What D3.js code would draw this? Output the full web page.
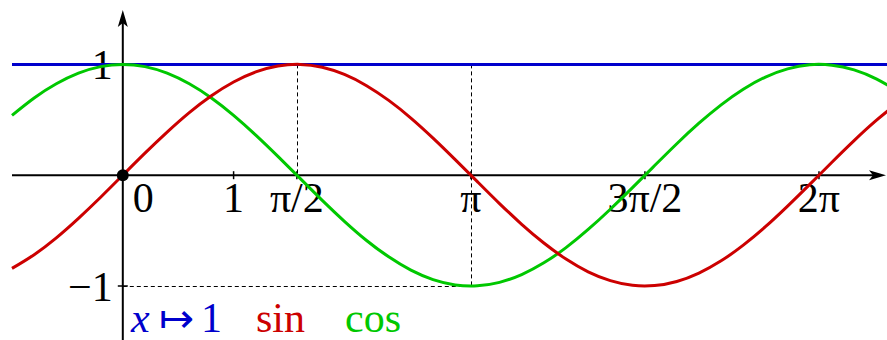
<!DOCTYPE html>
<html>
<head>
<meta charset="utf-8">
<script src="https://cdn.jsdelivr.net/npm/d3@7/dist/d3.min.js"></script>
<style>
  html, body { margin: 0; padding: 0; background: #fff; }
  svg { display: block; }
  text { font-family: "Liberation Serif", "Times New Roman", serif; font-size: 42px; }
</style>
</head>
<body>
<svg id="chart" width="887" height="340"></svg>
<script>
// Sample abscissae (radians) and the sampled function values
const xs = [-1.0, -0.8, -0.6, -0.4, -0.2, 0.0, 0.2, 0.4, 0.6, 0.8,
            1.0, 1.2, 1.4, 1.6, 1.8, 2.0, 2.2, 2.4, 2.6, 2.8,
            3.0, 3.2, 3.4, 3.6, 3.8, 4.0, 4.2, 4.4, 4.6, 4.8,
            5.0, 5.2, 5.4, 5.6, 5.8, 6.0, 6.2, 6.4, 6.6, 6.8, 7.0];
const sinValues = [-0.841, -0.717, -0.565, -0.389, -0.199, 0.000, 0.199, 0.389, 0.565, 0.717,
                   0.841, 0.932, 0.985, 1.000, 0.974, 0.909, 0.808, 0.675, 0.516, 0.335,
                   0.141, -0.058, -0.256, -0.443, -0.612, -0.757, -0.872, -0.952, -0.994, -0.996,
                   -0.959, -0.883, -0.773, -0.631, -0.465, -0.279, -0.083, 0.117, 0.312, 0.494, 0.657];
const cosValues = [0.540, 0.697, 0.825, 0.921, 0.980, 1.000, 0.980, 0.921, 0.825, 0.697,
                   0.540, 0.362, 0.170, -0.029, -0.227, -0.416, -0.589, -0.737, -0.857, -0.942,
                   -0.990, -0.998, -0.967, -0.897, -0.791, -0.654, -0.490, -0.307, -0.112, 0.087,
                   0.284, 0.469, 0.635, 0.776, 0.886, 0.960, 0.997, 0.993, 0.950, 0.869, 0.754];
const oneValues = xs.map(() => 1);

// Axis ticks
const xTickValues = [1, Math.PI / 2, Math.PI, 3 * Math.PI / 2, 2 * Math.PI];
const xTickLabels = ["1", "π/2", "π", "3π/2", "2π"];
const yTickValues = [1, -1];
const yTickLabels = ["1", "−1"];

const svg = d3.select("#chart");
const x = d3.scaleLinear().domain([-1, 6.9]).range([12, 12 + 7.9 * 110.8]);
const y = d3.scaleLinear().domain([-1, 1]).range([286, 64.4]);
const x0 = x(0), y0 = y(0);
// pixel-snapped position for 1px hairlines
const crisp = v => Math.round(v) + 0.5;

// Dashed guide lines
const guides = svg.append("g")
  .attr("stroke", "#000").attr("stroke-width", 1).attr("stroke-dasharray", "4,3").attr("fill", "none");
guides.append("line").attr("x1", crisp(x(Math.PI / 2))).attr("x2", crisp(x(Math.PI / 2)))
  .attr("y1", y(1)).attr("y2", y0);
guides.append("line").attr("x1", crisp(x(Math.PI))).attr("x2", crisp(x(Math.PI)))
  .attr("y1", y(1)).attr("y2", y(-1));
guides.append("line").attr("x1", x0).attr("x2", x(Math.PI))
  .attr("y1", crisp(y(-1))).attr("y2", crisp(y(-1)));

// Axes with arrowheads
const axes = svg.append("g");
axes.append("line").attr("x1", 12).attr("x2", 880).attr("y1", y0).attr("y2", y0)
  .attr("stroke", "#000").attr("stroke-width", 2);
axes.append("path").attr("fill", "#000")
  .attr("d", `M886,${y0} L869,${y0 - 5} L873,${y0} L869,${y0 + 5} Z`);
axes.append("line").attr("x1", x0).attr("x2", x0).attr("y1", 340).attr("y2", 16)
  .attr("stroke", "#000").attr("stroke-width", 2);
axes.append("path").attr("fill", "#000")
  .attr("d", `M${x0},10 L${x0 - 5},27 L${x0},23 L${x0 + 5},27 Z`);

axes.selectAll(".xt").data(xTickValues).join("line")
  .attr("x1", d => x(d)).attr("x2", d => x(d)).attr("y1", y0 - 4).attr("y2", y0 + 4)
  .attr("stroke", "#000").attr("stroke-width", 1.5);
axes.selectAll(".yt").data(yTickValues).join("line")
  .attr("x1", x0 - 5).attr("x2", x0 + 5).attr("y1", d => y(d)).attr("y2", d => y(d))
  .attr("stroke", "#000").attr("stroke-width", 1.5);

// Tick labels
svg.append("text").attr("x", x0 + 10).attr("y", 212).text("0");
svg.selectAll(".xl").data(xTickValues).join("text")
  .attr("x", d => x(d)).attr("y", 212).attr("text-anchor", "middle")
  .text((d, i) => xTickLabels[i]);
svg.selectAll(".yl").data(yTickValues).join("text")
  .attr("x", x0 - 10).attr("y", d => y(d) + 15).attr("text-anchor", "end")
  .text((d, i) => yTickLabels[i]);

// Curves
const line = d3.line().x(d => x(d[0])).y(d => y(d[1])).curve(d3.curveNatural);
const series = [
  { values: oneValues, color: "#0000cc" },
  { values: cosValues, color: "#00c800" },
  { values: sinValues, color: "#cc0000" }
];
svg.append("g").selectAll("path").data(series).join("path")
  .attr("d", s => line(xs.map((v, i) => [v, s.values[i]])))
  .attr("fill", "none").attr("stroke", s => s.color).attr("stroke-width", 3);

// Origin marker
svg.append("circle").attr("cx", x0).attr("cy", y0).attr("r", 6).attr("fill", "#000");

// Legend
const legend = svg.append("g");
legend.append("text").attr("x", 131).attr("y", 332).attr("fill", "#0000cc")
  .attr("font-style", "italic").text("x");
legend.append("text").attr("x", 159).attr("y", 332).attr("fill", "#0000cc")
  .attr("font-family", "DejaVu Sans").attr("font-size", 30).text("↦");
legend.append("text").attr("x", 201).attr("y", 332).attr("fill", "#0000cc").text("1");
legend.append("text").attr("x", 256).attr("y", 332).attr("fill", "#cc0000").text("sin");
legend.append("text").attr("x", 345).attr("y", 332).attr("fill", "#00c800").text("cos");
</script>
</body>
</html>
